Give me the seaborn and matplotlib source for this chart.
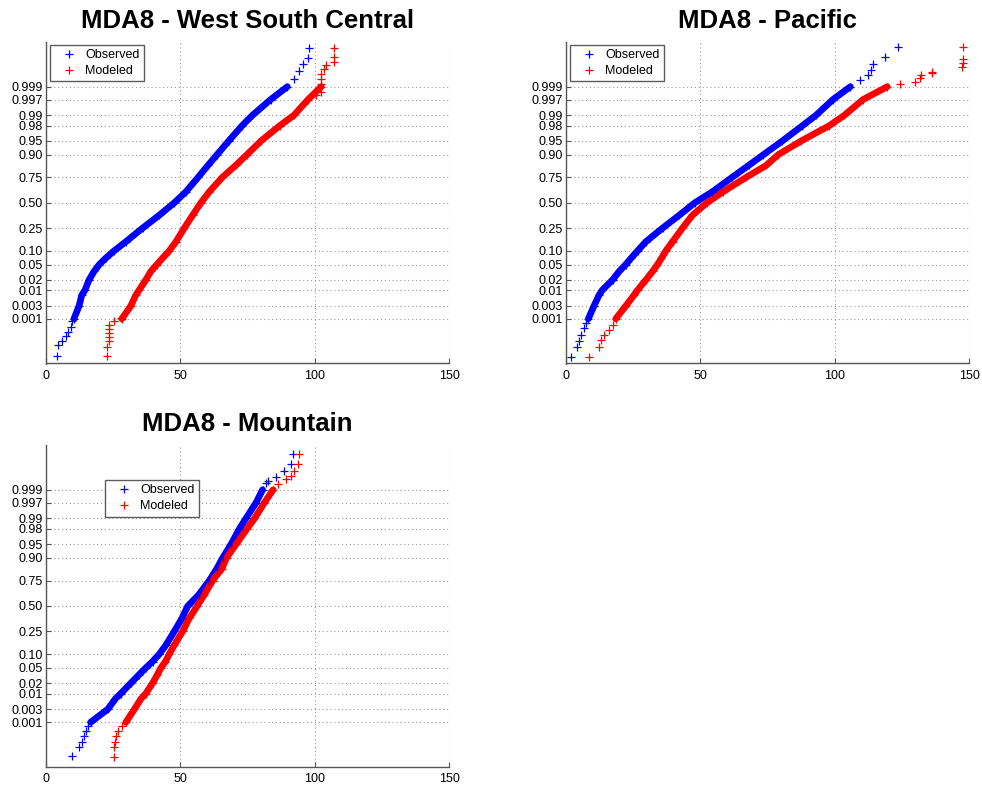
import matplotlib
matplotlib.use("Agg")
import matplotlib.pyplot as plt
from matplotlib.lines import Line2D
import pandas as pd
import seaborn as sns
from statistics import NormalDist

ND = NormalDist()

# ---------------- data ----------------
TITLES = ["MDA8 - West South Central", "MDA8 - Pacific", "MDA8 - Mountain"]
SERIES = ["Observed", "Modeled"]
PROB_TICKS = [0.001, 0.003, 0.01, 0.02, 0.05, 0.10, 0.25, 0.50,
              0.75, 0.90, 0.95, 0.98, 0.99, 0.997, 0.999]
PROB_LABELS = ["0.001", "0.003", "0.01", "0.02", "0.05", "0.10", "0.25", "0.50",
               "0.75", "0.90", "0.95", "0.98", "0.99", "0.997", "0.999"]
X_TICKS = [0, 50, 100, 150]

# cumulative probability levels at which the dense body of each curve was read
P_BODY = [0.001, 0.003, 0.007, 0.01, 0.02, 0.034, 0.05, 0.07, 0.10, 0.15, 0.25,
          0.37, 0.50, 0.615, 0.75, 0.84, 0.90, 0.95, 0.98, 0.99, 0.997, 0.999]

# MDA8 value of each series at every level of P_BODY
wsc_obs_body = [10.5, 12.4, 13.4, 14.6, 16.1, 18.0, 19.9, 22.3, 25.4, 29.8, 36.0,
                42.2, 47.8, 52.1, 56.6, 60.3, 63.7, 68.0, 73.0, 76.8, 83.6, 89.8]
wsc_mod_body = [28.3, 31.6, 33.5, 34.7, 37.2, 39.1, 41.3, 43.4, 45.9, 48.4, 51.5,
                54.6, 57.7, 60.8, 65.6, 70.6, 74.8, 80.0, 87.0, 92.2, 97.5, 102.4]
pac_obs_body = [8.4, 10.5, 12.4, 13.6, 17.4, 19.9, 22.3, 24.3, 26.7, 29.8, 36.0,
                42.2, 48.0, 54.5, 61.8, 68.0, 73.5, 80.5, 88.0, 93.0, 99.3, 105.8]
pac_mod_body = [18.6, 22.3, 25.4, 26.7, 29.8, 32.3, 34.1, 35.6, 37.2, 39.7, 43.4,
                47.1, 52.5, 58.5, 67.0, 74.5, 79.0, 87.5, 98.0, 103.5, 110.5, 119.5]
mtn_obs_body = [16.7, 23.0, 26.0, 27.9, 31.6, 34.7, 37.2, 39.7, 42.2, 44.7, 47.8,
                50.6, 52.8, 56.8, 60.8, 63.6, 65.8, 68.9, 72.0, 74.4, 78.2, 80.6]
mtn_mod_body = [29.8, 32.9, 35.5, 37.2, 39.7, 41.5, 42.8, 44.5, 45.9, 47.8, 50.9,
                53.3, 56.3, 58.9, 62.0, 65.5, 67.2, 70.8, 74.8, 77.6, 81.3, 84.5]

# sparse tail points: MDA8 values and their normal scores
wsc_obs_tail_x = [4.1, 4.7, 6.2, 7.4, 8.4, 9.3, 9.9, 92.4, 94.0, 95.5, 97.4, 98.0]
wsc_obs_tail_z = [-4.07, -3.80, -3.69, -3.56, -3.43, -3.30, -3.16, 3.30, 3.50, 3.70, 3.85, 4.12]
wsc_mod_tail_x = [22.6, 22.7, 23.6, 23.6, 23.6, 23.6, 23.6, 25.4, 27.9, 100.5,
                  102.4, 102.4, 102.4, 102.4, 103.6, 104.2, 107.0, 107.0, 107.0]
wsc_mod_tail_z = [-4.09, -3.83, -3.69, -3.58, -3.47, -3.36, -3.25, -3.14, -3.07, 2.86,
                  2.95, 3.15, 3.30, 3.44, 3.57, 3.66, 3.75, 3.88, 4.12]
pac_obs_tail_x = [1.9, 4.3, 5.0, 5.6, 6.8, 7.7, 109.2, 112.3, 113.5, 114.1, 118.5, 123.4]
pac_obs_tail_z = [-4.11, -3.85, -3.69, -3.52, -3.34, -3.20, 3.26, 3.39, 3.53, 3.70, 3.88, 4.15]
pac_mod_tail_x = [8.7, 12.4, 13.0, 14.3, 16.1, 17.4, 124.1, 129.7, 131.5, 132.1,
                  136.0, 136.0, 147.2, 147.5, 147.5, 147.8]
pac_mod_tail_z = [-4.12, -3.83, -3.65, -3.52, -3.38, -3.25, 3.17, 3.22, 3.32, 3.39,
                  3.45, 3.49, 3.62, 3.73, 3.84, 4.15]
mtn_obs_tail_x = [9.7, 12.4, 13.4, 14.3, 15.1, 15.9, 81.9, 82.5, 85.6, 88.7, 91.2, 91.8]
mtn_obs_tail_z = [-4.00, -3.76, -3.62, -3.45, -3.31, -3.18, 3.26, 3.33, 3.42, 3.60, 3.77, 4.04]
mtn_mod_tail_x = [25.4, 25.4, 25.8, 26.3, 27.0, 28.3, 86.2, 89.3, 91.2, 92.4, 93.7, 94.3]
mtn_mod_tail_z = [-4.02, -3.76, -3.62, -3.45, -3.31, -3.18, 3.24, 3.37, 3.46, 3.60, 3.77, 4.04]

PANELS = [
    (TITLES[0], (wsc_obs_body, wsc_obs_tail_x, wsc_obs_tail_z), (wsc_mod_body, wsc_mod_tail_x, wsc_mod_tail_z)),
    (TITLES[1], (pac_obs_body, pac_obs_tail_x, pac_obs_tail_z), (pac_mod_body, pac_mod_tail_x, pac_mod_tail_z)),
    (TITLES[2], (mtn_obs_body, mtn_obs_tail_x, mtn_obs_tail_z), (mtn_mod_body, mtn_mod_tail_x, mtn_mod_tail_z)),
]

# ---------------- styling ----------------
sns.set_style("white")
plt.rcParams["font.family"] = ["Liberation Sans", "DejaVu Sans"]
plt.rcParams["text.color"] = "black"
plt.rcParams["xtick.color"] = "black"
plt.rcParams["ytick.color"] = "black"

COLORS = {"Observed": "#0000ff", "Modeled": "#ff0000"}
W, H = 982, 788
fig = plt.figure(figsize=(W / 100, H / 100), dpi=100)

# axes rectangles in pixels: left, top, right, bottom
RECTS = [(45.7, 42, 449.3, 363.5), (565.7, 42, 969.3, 363.5), (45.7, 445, 449.3, 767)]
LEG_POS = [(0.011, 0.991), (0.011, 0.991), (0.147, 0.891)]

Z_TICKS = [ND.inv_cdf(p) for p in PROB_TICKS]
Z_BODY = [ND.inv_cdf(p) for p in P_BODY]
AX_COL = "#555555"

for (title, obs, mod), (l, t, r, b), legpos in zip(PANELS, RECTS, LEG_POS):
    ax = fig.add_axes([l / W, 1 - b / H, (r - l) / W, (b - t) / H])
    for name, (body, tx, tz) in zip(SERIES, (obs, mod)):
        c = COLORS[name]
        body_df = pd.DataFrame({"x": body, "z": Z_BODY})
        sns.lineplot(data=body_df, x="x", y="z", sort=False, estimator=None,
                     color=c, linewidth=4.8, solid_capstyle="round",
                     solid_joinstyle="round", ax=ax)
        pts = pd.DataFrame({"x": list(body) + list(tx), "z": Z_BODY + list(tz)})
        sns.scatterplot(data=pts, x="x", y="z", marker="+", color=c,
                        s=26, linewidth=0.9, ax=ax, zorder=3)

    ax.set_xlim(0, 150)
    ax.set_ylim(-4.28, 4.28)
    ax.set_xticks(X_TICKS)
    ax.set_xticklabels([str(v) for v in X_TICKS])
    ax.set_yticks(Z_TICKS)
    ax.set_yticklabels(PROB_LABELS)
    ax.set_xlabel("")
    ax.set_ylabel("")
    ax.grid(True, linestyle=(0, (1, 2.5)), color="#9a9a9a", linewidth=0.8)
    ax.set_axisbelow(True)
    for s in ("top", "right"):
        ax.spines[s].set_visible(False)
    for s in ("left", "bottom"):
        ax.spines[s].set_color(AX_COL)
        ax.spines[s].set_linewidth(1.0)
    ax.tick_params(axis="both", direction="in", length=3.5, width=0.8, color=AX_COL,
                   labelsize=9, labelcolor="black", left=True, bottom=True)
    ax.tick_params(axis="y", pad=2)
    ax.tick_params(axis="x", pad=4.5)
    ax.set_title(title, fontsize=18.5, fontweight="bold", pad=10, color="black")

    handles = [Line2D([], [], linestyle="", marker="+", color=COLORS[n],
                      markersize=6, markeredgewidth=0.9) for n in SERIES]
    leg = ax.legend(handles, SERIES, loc="upper left", bbox_to_anchor=legpos,
                    frameon=True, fancybox=False, fontsize=9, borderpad=0.35,
                    handlelength=2.3, handletextpad=0.15, labelspacing=0.3,
                    borderaxespad=0)
    leg.get_frame().set_edgecolor("#333333")
    leg.get_frame().set_linewidth(1.0)
    for txt in leg.get_texts():
        txt.set_color("black")

fig.savefig("out.png", dpi=100)
